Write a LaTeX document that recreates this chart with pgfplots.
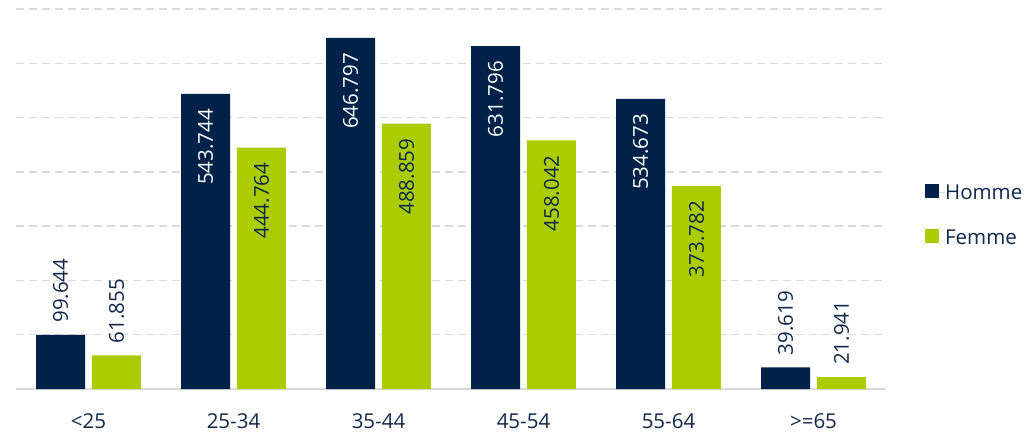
\documentclass[border=0pt]{standalone}
\usepackage{graphicx}
\usepackage{pgfplots}
\pgfplotsset{compat=1.18}
\usepackage{fontspec}
\setmainfont{Open Sans}
\definecolor{navy}{RGB}{0,34,72}
\definecolor{lime}{RGB}{170,204,0}
\definecolor{txt}{RGB}{16,40,75}
\definecolor{gridc}{RGB}{217,217,217}
\newcommand{\lblfont}{\fontsize{20.5}{24}\selectfont}

\begin{document}
\begin{tikzpicture}
\path[use as bounding box] (-16pt,-43pt) rectangle (1017pt,389pt);
\begin{axis}[
  at={(0,0)}, anchor=south west,
  width=870pt, height=380pt, scale only axis,
  xmin=-0.5, xmax=5.5, ymin=0, ymax=700,
  xtick={0,...,5},
  xticklabels={{<25},{25-34},{35-44},{45-54},{55-64},{>=65}},
  ytick={100,200,...,700}, yticklabels={},
  ymajorgrids,
  major grid style={gridc, line width=1.5pt, dash pattern=on 8pt off 5pt},
  extra y ticks={0}, extra y tick labels={},
  extra y tick style={major grid style={gridc, line width=2pt, solid}},
  axis line style={draw=none},
  major tick length=0pt,
  tick label style={font=\lblfont, text=txt},
  xticklabel style={yshift=-21pt},
  legend style={at={(axis description cs:1.045,0.458)}, anchor=west,
    draw=none, fill=none, font=\lblfont, text=txt, inner sep=0pt, outer sep=0pt,
    row sep=28pt, nodes={inner sep=0pt}},
  legend cell align=left,
  legend image code/.code={\fill[#1,draw=none] (0pt,-5pt) rectangle (14pt,9pt);
    \path (0pt,0pt) -- (20pt,0pt);},
]
% bars
\addplot[ybar, bar width=0.338, bar shift=-0.193, fill=navy, draw=none]
  coordinates {(0,99.644)(1,543.744)(2,646.797)(3,631.796)(4,534.673)(5,39.619)};
\addlegendentry{Homme}
\addplot[ybar, bar width=0.338, bar shift=0.193, fill=lime, draw=none]
  coordinates {(0,61.855)(1,444.764)(2,488.859)(3,458.042)(4,373.782)(5,21.941)};
\addlegendentry{Femme}

% labels inside the bars
\addplot[draw=none, forget plot,
  point meta=explicit symbolic, nodes near coords={\rotatebox{90}{\pgfplotspointmeta}},
  nodes near coords style={anchor=north, xshift=-28pt, text=white, font=\lblfont, inner ysep=15pt, inner xsep=0pt}]
  coordinates {(1,543.744)[543.744] (2,646.797)[646.797] (3,631.796)[631.796] (4,534.673)[534.673]};
\addplot[draw=none, forget plot,
  point meta=explicit symbolic, nodes near coords={\rotatebox{90}{\pgfplotspointmeta}},
  nodes near coords style={anchor=north, xshift=28pt, text=txt, font=\lblfont, inner ysep=15pt, inner xsep=0pt}]
  coordinates {(1,444.764)[444.764] (2,488.859)[488.859] (3,458.042)[458.042] (4,373.782)[373.782]};

% labels above the small bars
\addplot[draw=none, forget plot,
  point meta=explicit symbolic, nodes near coords={\rotatebox{90}{\pgfplotspointmeta}},
  nodes near coords style={anchor=south, xshift=-28pt, text=txt, font=\lblfont, inner ysep=12pt, inner xsep=0pt}]
  coordinates {(0,99.644)[99.644] (5,39.619)[39.619]};
\addplot[draw=none, forget plot,
  point meta=explicit symbolic, nodes near coords={\rotatebox{90}{\pgfplotspointmeta}},
  nodes near coords style={anchor=south, xshift=28pt, text=txt, font=\lblfont, inner ysep=12pt, inner xsep=0pt}]
  coordinates {(0,61.855)[61.855] (5,21.941)[21.941]};
\end{axis}
\end{tikzpicture}
\end{document}
